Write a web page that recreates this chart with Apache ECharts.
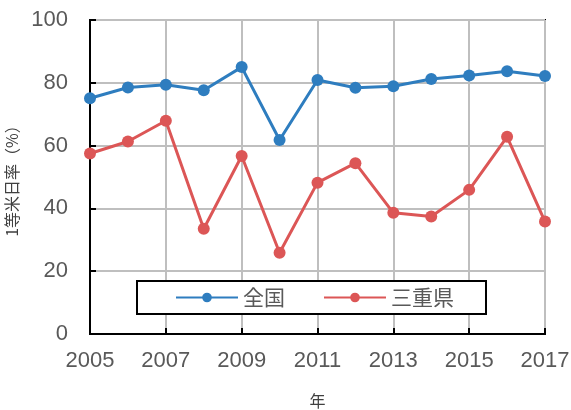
<!DOCTYPE html>
<html>
<head>
<meta charset="utf-8">
<script src="https://cdn.jsdelivr.net/npm/echarts@6/dist/echarts.min.js"></script>
<style>
  html, body { margin: 0; padding: 0; background: #fff; }
  #chart { width: 571px; height: 410px; }
</style>
</head>
<body>
<div id="chart"></div>
<script>
// 年ごとの1等米比率
const years = ['2005', '2006', '2007', '2008', '2009', '2010', '2011', '2012', '2013', '2014', '2015', '2016', '2017']
const zenkoku = [75.1, 78.5, 79.4, 77.6, 85.0, 61.8, 80.9, 78.4, 78.9, 81.2, 82.3, 83.7, 82.2]
const mie = [57.5, 61.3, 67.9, 33.5, 56.7, 25.9, 48.2, 54.4, 38.6, 37.4, 45.9, 62.8, 35.8]
const yTicks = { min: 0, max: 100, interval: 20 }

const chart = echarts.init(document.getElementById('chart'))

const numFont = 'Liberation Sans, sans-serif'
const jpFont = 'Noto Sans CJK JP, sans-serif'

chart.setOption({
  animation: false,
  grid: {
    left: 90, right: 26, top: 20, bottom: 76,
    outerBoundsMode: 'none',
    containLabel: false,
    show: true, borderColor: '#000', borderWidth: 2
  },
  legend: {
    left: 137, top: 281,
    padding: [6, 32, 6, 38],
    itemGap: 38,
    itemWidth: 62, itemHeight: 12,
    borderColor: '#000', borderWidth: 2,
    backgroundColor: '#fff',
    textStyle: { fontFamily: jpFont, fontSize: 21, color: '#595959' },
    data: ['全国', '三重県']
  },
  xAxis: {
    type: 'category',
    data: years,
    boundaryGap: false,
    name: '年',
    nameLocation: 'middle',
    nameGap: 59,
    nameTextStyle: { fontFamily: jpFont, fontSize: 16, color: '#404040' },
    axisLine: { lineStyle: { color: '#000', width: 2 } },
    axisTick: { inside: true, length: 6, interval: 1, lineStyle: { color: '#000', width: 2 } },
    axisLabel: { interval: 1, margin: 16, fontFamily: numFont, fontSize: 22, color: '#595959' },
    splitLine: { show: true, interval: 1, lineStyle: { color: '#bfbfbf', width: 2 } }
  },
  yAxis: {
    type: 'value',
    min: yTicks.min, max: yTicks.max, interval: yTicks.interval,
    name: '1等米日率（%）',
    nameLocation: 'middle',
    nameGap: 58,
    nameTextStyle: { fontFamily: jpFont, fontSize: 16, color: '#404040' },
    axisLine: { show: true, lineStyle: { color: '#000', width: 2 } },
    axisTick: { show: true, inside: true, length: 6, lineStyle: { color: '#000', width: 2 } },
    axisLabel: { margin: 22, fontFamily: numFont, fontSize: 22, color: '#595959' },
    splitLine: { show: true, lineStyle: { color: '#bfbfbf', width: 2 } }
  },
  series: [
    {
      name: '全国', type: 'line', data: zenkoku,
      symbol: 'circle', symbolSize: 12,
      itemStyle: { color: '#2e7dbf' },
      lineStyle: { color: '#2e7dbf', width: 3 }
    },
    {
      name: '三重県', type: 'line', data: mie,
      symbol: 'circle', symbolSize: 12,
      itemStyle: { color: '#dc5656' },
      lineStyle: { color: '#dc5656', width: 3 }
    }
  ]
})
</script>
</body>
</html>
